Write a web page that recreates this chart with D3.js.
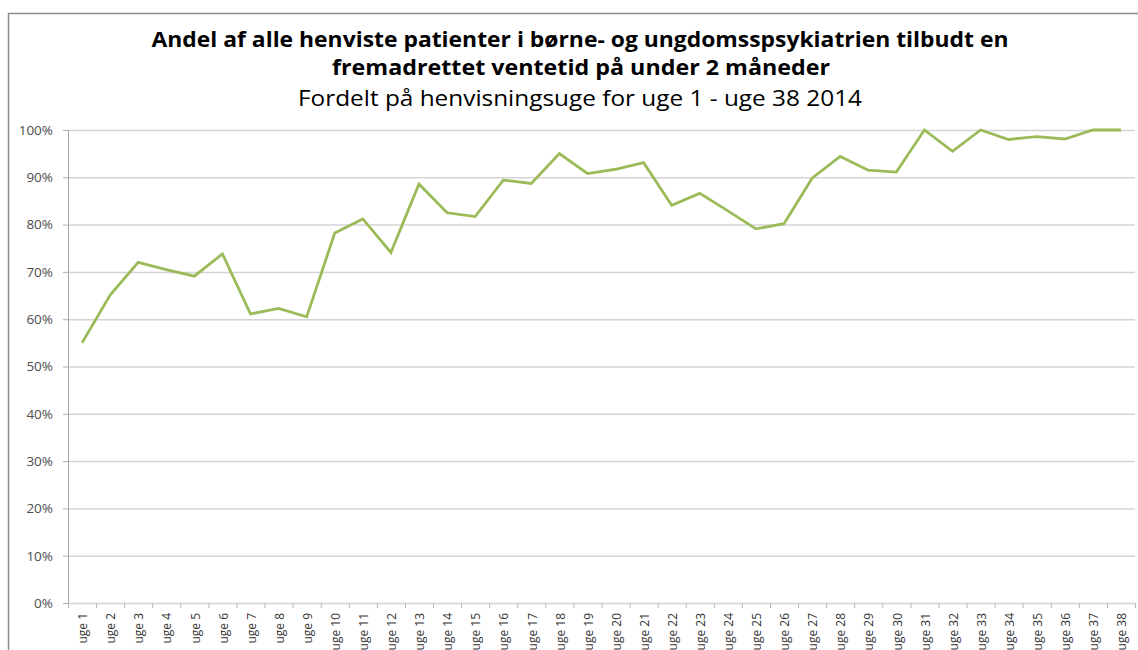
<!DOCTYPE html>
<html>
<head>
<meta charset="utf-8">
<script src="https://cdn.jsdelivr.net/npm/d3@7/dist/d3.min.js"></script>
<style>
  html, body { margin: 0; padding: 0; background: #fff; }
  svg { display: block; }
</style>
</head>
<body>
<svg id="chart" width="1138" height="650"></svg>
<script>
const categories = ["uge 1","uge 2","uge 3","uge 4","uge 5","uge 6","uge 7","uge 8","uge 9","uge 10",
  "uge 11","uge 12","uge 13","uge 14","uge 15","uge 16","uge 17","uge 18","uge 19","uge 20",
  "uge 21","uge 22","uge 23","uge 24","uge 25","uge 26","uge 27","uge 28","uge 29","uge 30",
  "uge 31","uge 32","uge 33","uge 34","uge 35","uge 36","uge 37","uge 38"];
const values = [0.550,0.651,0.720,0.705,0.691,0.738,0.611,0.623,0.605,0.782,
  0.812,0.741,0.886,0.825,0.817,0.894,0.887,0.950,0.908,0.917,
  0.931,0.841,0.866,0.829,0.791,0.802,0.898,0.944,0.915,0.911,
  1.000,0.955,1.000,0.980,0.986,0.981,1.000,1.000];
const yTicks = [0,0.1,0.2,0.3,0.4,0.5,0.6,0.7,0.8,0.9,1.0];
const titleLines = [
  "Andel af alle henviste patienter i børne- og ungdomsspsykiatrien tilbudt en",
  "fremadrettet ventetid på under 2 måneder"
];
const subtitle = "Fordelt på henvisningsuge for uge 1 - uge 38 2014";

const svg = d3.select("#chart");
const font = "'Open Sans', 'Noto Sans', sans-serif";
const plotLeft = 68, plotRight = 1135, plotTop = 130, plotBottom = 603;

// frame
svg.append("path")
  .attr("d", `M8.5,650 L8.5,13.5 L1138,13.5`)
  .attr("fill", "none").attr("stroke", "#8c8c8c").attr("stroke-width", 1.5);

// titles
svg.append("text").text(titleLines[0])
  .attr("x", 580).attr("y", 47).attr("text-anchor", "middle")
  .attr("font-family", font).attr("font-weight", "bold").attr("font-size", 21)
  .attr("textLength", 857).attr("lengthAdjust", "spacingAndGlyphs").attr("fill", "#000");
svg.append("text").text(titleLines[1])
  .attr("x", 581).attr("y", 75).attr("text-anchor", "middle")
  .attr("font-family", font).attr("font-weight", "bold").attr("font-size", 21)
  .attr("textLength", 498).attr("lengthAdjust", "spacingAndGlyphs").attr("fill", "#000");
svg.append("text").text(subtitle)
  .attr("x", 580).attr("y", 106).attr("text-anchor", "middle")
  .attr("font-family", font).attr("font-size", 21)
  .attr("textLength", 564).attr("lengthAdjust", "spacingAndGlyphs").attr("fill", "#000");

const x = d3.scaleBand().domain(categories).range([plotLeft, plotRight]).padding(0);
const y = d3.scaleLinear().domain([0, 1]).range([plotBottom, plotTop]);

// gridlines
const yAxis = d3.axisLeft(y).tickValues(yTicks).tickFormat(d3.format(".0%"))
  .tickSize(-(plotRight - plotLeft)).tickPadding(10);
const gy = svg.append("g").attr("transform", `translate(${plotLeft},0)`).call(yAxis);
gy.select(".domain").remove();
gy.selectAll(".tick line").attr("stroke", "#d4d4d4").attr("stroke-width", 1.5);
gy.selectAll(".tick").append("line").attr("x1", -5).attr("x2", 0)
  .attr("stroke", "#b0b0b0").attr("stroke-width", 1);
gy.selectAll(".tick text").attr("font-family", font).attr("font-size", 13.5)
  .attr("fill", "#4d4d4d").attr("x", -15);

// y axis line
svg.append("line").attr("x1", plotLeft + 0.5).attr("x2", plotLeft + 0.5)
  .attr("y1", y(1)).attr("y2", y(0)).attr("stroke", "#a6a6a6").attr("stroke-width", 1);

// x axis ticks
const bounds = categories.map(c => x(c)).concat([plotRight]);
svg.append("g").selectAll("line").data(bounds).join("line")
  .attr("x1", d => d + 0.5).attr("x2", d => d + 0.5)
  .attr("y1", plotBottom).attr("y2", plotBottom + 5)
  .attr("stroke", "#b8b8b8").attr("stroke-width", 1);

// x labels
svg.append("g").selectAll("text").data(categories).join("text")
  .text(d => d)
  .attr("transform", d => `translate(${x(d) + x.bandwidth() / 2 + 1},${plotBottom + 10}) rotate(-90)`)
  .attr("text-anchor", "end").attr("dy", "0.35em")
  .attr("font-family", font).attr("font-size", 12).attr("fill", "#333");

// line
const line = d3.line()
  .x((d, i) => x(categories[i]) + x.bandwidth() / 2)
  .y(d => y(d));
svg.append("path").datum(values)
  .attr("d", line).attr("fill", "none")
  .attr("stroke", "#9bbb59").attr("stroke-width", 2.8)
  .attr("stroke-linejoin", "miter");
</script>
</body>
</html>
